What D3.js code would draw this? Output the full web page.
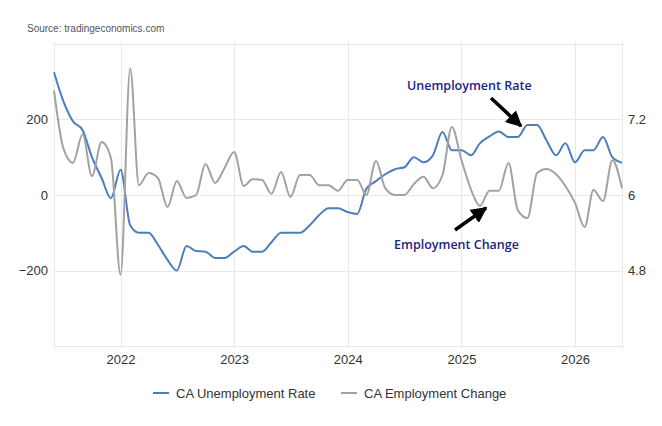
<!DOCTYPE html>
<html>
<head>
<meta charset="utf-8">
<script src="https://cdn.jsdelivr.net/npm/d3@7"></script>
<style>
  body { margin: 0; background: #fff; }
  svg { display: block; font-family: "Liberation Sans", Arial, sans-serif; }
</style>
</head>
<body>
<svg id="chart" width="662" height="426"></svg>
<script>
// monthly, Jun 2021 .. Jun 2026
var startMonth = new Date(2021, 5, 1);
var endMonth = new Date(2026, 5, 1);

// CA Unemployment Rate (%), right axis
var unemploymentRate = [
  7.95, 7.49, 7.17, 7.03, 6.60, 6.27, 5.95, 6.40, 5.52, 5.40,
  5.40, 5.21, 4.97, 4.80, 5.19, 5.11, 5.10, 5.00, 5.00, 5.10,
  5.19, 5.10, 5.10, 5.25, 5.40, 5.40, 5.40, 5.52, 5.68, 5.79,
  5.79, 5.73, 5.70, 6.10, 6.22, 6.33, 6.41, 6.44, 6.60, 6.52,
  6.63, 7.00, 6.71, 6.71, 6.63, 6.82, 6.93, 7.01, 6.92, 6.92,
  7.11, 7.11, 6.87, 6.63, 6.82, 6.52, 6.71, 6.71, 6.92, 6.60,
  6.51
];

// CA Employment Change (thousands), left axis
var employmentChange = [
  277, 124, 85, 161, 50, 140, 98, -211, 335, 26,
  58, 45, -32, 37, -8, 0, 82, 32, 71, 114,
  24, 42, 40, 3, 61, -5, 53, 53, 26, 26,
  11, 40, 40, 0, 90, 18, 0, 0, 29, 48,
  18, 53, 180, 92, 13, -29, 11, 11, 85, -40,
  -61, 58, 69, 55, 24, -21, -85, 13, -16, 92,
  18
];

var leftTicks = [-200, 0, 200];
var rightTicks = [4.8, 6, 7.2];
var seriesNames = ['CA Unemployment Rate', 'CA Employment Change'];
var seriesColors = ['#4d7ebb', '#a2a2a2'];

var months = d3.timeMonth.range(startMonth, d3.timeMonth.offset(endMonth, 1));

var svg = d3.select('#chart');
var plot = { left: 54, right: 622, top: 42, bottom: 348 };

var x = d3.scaleTime()
  .domain([startMonth, endMonth])
  .range([plot.left, plot.right]);
var yLeft = d3.scaleLinear()
  .domain([-405, 405])
  .range([plot.bottom, plot.top]);
var yRight = d3.scaleLinear()
  .domain([6 - 2.43, 6 + 2.43])
  .range([plot.bottom, plot.top]);

svg.append('rect').attr('width', 662).attr('height', 426).attr('fill', '#fff');

svg.append('text')
  .attr('x', 27)
  .attr('y', 32)
  .attr('font-size', 10)
  .attr('fill', '#555')
  .text('Source: tradingeconomics.com');

// grid
var grid = svg.append('g').attr('stroke', '#e8e8e8').attr('stroke-width', 1);
grid.selectAll('line.h')
  .data([-400, -200, 0, 200, 400])
  .enter().append('line')
  .attr('x1', plot.left).attr('x2', plot.right)
  .attr('y1', function(d) { return Math.round(yLeft(d)) + 0.5; })
  .attr('y2', function(d) { return Math.round(yLeft(d)) + 0.5; });
grid.selectAll('line.v')
  .data(x.ticks(d3.timeYear).concat([startMonth, endMonth]))
  .enter().append('line')
  .attr('x1', function(d) { return Math.round(x(d)) + 0.5; })
  .attr('x2', function(d) { return Math.round(x(d)) + 0.5; })
  .attr('y1', plot.top).attr('y2', plot.bottom);

// axes
var axisLeft = svg.append('g')
  .attr('transform', 'translate(' + plot.left + ',0)')
  .call(d3.axisLeft(yLeft).tickValues(leftTicks).tickSize(0).tickPadding(6));
var axisRight = svg.append('g')
  .attr('transform', 'translate(' + plot.right + ',0)')
  .call(d3.axisRight(yRight).tickValues(rightTicks).tickSize(0).tickPadding(6)
    .tickFormat(d3.format('')));
var axisBottom = svg.append('g')
  .attr('transform', 'translate(0,' + plot.bottom + ')')
  .call(d3.axisBottom(x).ticks(d3.timeYear).tickFormat(d3.timeFormat('%Y'))
    .tickSize(0).tickPadding(7));

[axisLeft, axisRight, axisBottom].forEach(function(a) {
  a.select('.domain').remove();
  a.selectAll('text')
    .attr('font-family', '"Liberation Sans", Arial, sans-serif')
    .attr('font-size', 13)
    .attr('fill', '#333');
});

// series
var lineLeft = d3.line()
  .x(function(d, i) { return x(months[i]); })
  .y(function(d) { return yLeft(d); })
  .curve(d3.curveMonotoneX);
var lineRight = d3.line()
  .x(function(d, i) { return x(months[i]); })
  .y(function(d) { return yRight(d); })
  .curve(d3.curveMonotoneX);

svg.append('path')
  .datum(unemploymentRate)
  .attr('d', lineRight)
  .attr('fill', 'none')
  .attr('stroke', seriesColors[0])
  .attr('stroke-width', 2);

svg.append('path')
  .datum(employmentChange)
  .attr('d', lineLeft)
  .attr('fill', 'none')
  .attr('stroke', seriesColors[1])
  .attr('stroke-width', 2);

// annotations
svg.append('defs').append('marker')
  .attr('id', 'arrowhead')
  .attr('viewBox', '0 0 10 10')
  .attr('refX', 9)
  .attr('refY', 5)
  .attr('markerWidth', 4.6)
  .attr('markerHeight', 4.6)
  .attr('markerUnits', 'strokeWidth')
  .attr('orient', 'auto')
  .append('path')
  .attr('d', 'M0,0 L10,5 L0,10 Z')
  .attr('fill', '#000');

var notes = [
  { text: 'Unemployment Rate', tx: 407, ty: 90, x1: 491, y1: 98, x2: 521, y2: 126 },
  { text: 'Employment Change', tx: 394, ty: 249, x1: 455, y1: 230, x2: 486, y2: 208 }
];

var note = svg.selectAll('g.note')
  .data(notes)
  .enter().append('g')
  .attr('class', 'note');
note.append('text')
  .attr('x', function(d) { return d.tx; })
  .attr('y', function(d) { return d.ty; })
  .attr('font-family', '"Open Sans", sans-serif')
  .attr('font-size', 12.5)
  .attr('font-weight', 600)
  .attr('fill', '#1b2580')
  .text(function(d) { return d.text; });
note.append('line')
  .attr('x1', function(d) { return d.x1; })
  .attr('y1', function(d) { return d.y1; })
  .attr('x2', function(d) { return d.x2; })
  .attr('y2', function(d) { return d.y2; })
  .attr('stroke', '#000')
  .attr('stroke-width', 3.5)
  .attr('marker-end', 'url(#arrowhead)');

// legend
var legend = svg.append('g').attr('transform', 'translate(0,393)');
var legendItems = [
  { name: seriesNames[0], color: seriesColors[0], x: 153 },
  { name: seriesNames[1], color: seriesColors[1], x: 341 }
];
var item = legend.selectAll('g')
  .data(legendItems)
  .enter().append('g')
  .attr('transform', function(d) { return 'translate(' + d.x + ',0)'; });
item.append('line')
  .attr('x1', 0).attr('x2', 16)
  .attr('stroke', function(d) { return d.color; })
  .attr('stroke-width', 2);
item.append('text')
  .attr('x', 23)
  .attr('dy', '0.35em')
  .attr('font-size', 13)
  .attr('fill', '#333')
  .text(function(d) { return d.name; });
</script>
</body>
</html>
